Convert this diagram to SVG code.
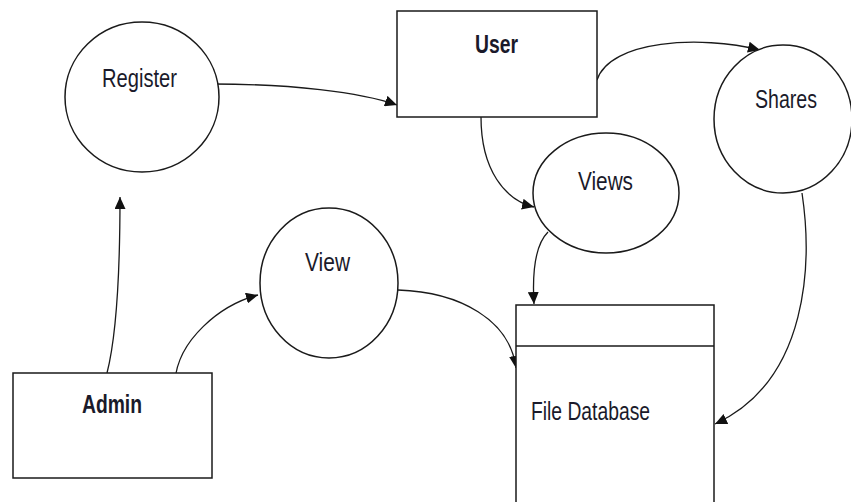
<svg xmlns="http://www.w3.org/2000/svg" width="851" height="502" viewBox="0 0 851 502">
<style>
.shape{fill:#fff;stroke:#1a1a1a;stroke-width:1.5}
.conn{fill:none;stroke:#1a1a1a;stroke-width:1.3}
.lbl{font-family:"Liberation Sans",Arial,sans-serif;font-size:26px;fill:#1a1a2a;text-anchor:start}
.bold{font-weight:bold}
</style>
<defs>
<marker id="arr" markerUnits="userSpaceOnUse" markerWidth="13" markerHeight="11" refX="12" refY="5.5" orient="auto">
<path d="M0,0 L12,5.5 L0,11 Z" fill="#111"/>
</marker>
</defs>
<rect width="851" height="502" fill="#fff"/>
<g id="connectors">
<path class="conn" d="M213,84 C290,84 360,92 397,105" marker-end="url(#arr)"/>
<path class="conn" d="M597,80 C610,40 700,35 760,50" marker-end="url(#arr)"/>
<path class="conn" d="M481,117 C481,170 505,200 534,207" marker-end="url(#arr)"/>
<path class="conn" d="M548,232 C535,245 532,270 534,304" marker-end="url(#arr)"/>
<path class="conn" d="M802,193 C812,260 810,380 715,424" marker-end="url(#arr)"/>
<path class="conn" d="M398,290 C460,292 510,320 516,368" marker-end="url(#arr)"/>
<path class="conn" d="M107,373 C118,330 120,260 120,197" marker-end="url(#arr)"/>
<path class="conn" d="M175,381 C178,340 220,305 258,295" marker-end="url(#arr)"/>
</g>
<g id="register">
<ellipse class="shape" cx="142" cy="97" rx="77" ry="75"/>
<text class="lbl" x="102" y="87" textLength="75" lengthAdjust="spacingAndGlyphs">Register</text>
</g>
<g id="user">
<rect class="shape" x="397" y="11" width="200" height="106"/>
<text class="lbl bold" x="475" y="53" textLength="43" lengthAdjust="spacingAndGlyphs">User</text>
</g>
<g id="shares">
<ellipse class="shape" cx="783" cy="119" rx="69" ry="74"/>
<text class="lbl" x="755" y="108" textLength="62" lengthAdjust="spacingAndGlyphs">Shares</text>
</g>
<g id="views">
<ellipse class="shape" cx="606" cy="193" rx="73" ry="60"/>
<text class="lbl" x="578" y="190" textLength="55" lengthAdjust="spacingAndGlyphs">Views</text>
</g>
<g id="view">
<ellipse class="shape" cx="329" cy="283" rx="69" ry="75"/>
<text class="lbl" x="305" y="271" textLength="45" lengthAdjust="spacingAndGlyphs">View</text>
</g>
<g id="admin">
<rect class="shape" x="13" y="373" width="199" height="105"/>
<text class="lbl bold" x="82" y="413" textLength="60" lengthAdjust="spacingAndGlyphs">Admin</text>
</g>
<g id="file-database">
<rect class="shape" x="516" y="305" width="198" height="210"/>
<line class="shape" x1="516" y1="346" x2="714" y2="346"/>
<text class="lbl" x="531" y="420" textLength="119" lengthAdjust="spacingAndGlyphs">File Database</text>
</g>
</svg>
